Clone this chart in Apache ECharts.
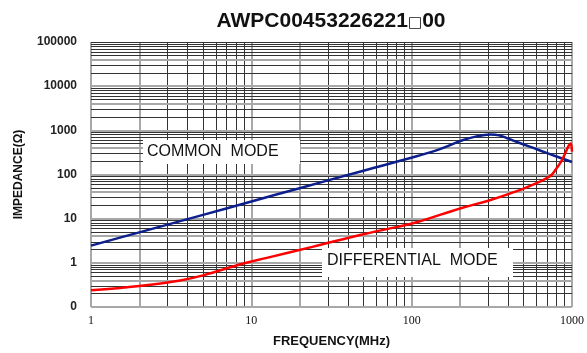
<!DOCTYPE html>
<html><head><meta charset="utf-8">
<script src="https://cdn.jsdelivr.net/npm/echarts@6/dist/echarts.min.js"></script>
<style>html,body{margin:0;padding:0;background:#fff}#c{width:587px;height:353px}</style>
</head><body><div id="c"></div>
<script>
var titlePart1 = "AWPC00453226221";
var titleBox = "\u25A1";
var titlePart2 = "00";
var xName = "FREQUENCY(MHz)";
var yName = "IMPEDANCE(\u03A9)";
var commonFreq = [1, 2, 5, 10, 20, 50, 110, 150, 205, 250, 310, 350, 400, 462, 615, 800, 1000];
var commonZ    = [2.45, 4.9, 12.2, 24.5, 49, 122, 265, 375, 590, 720, 800, 770, 650, 530, 364, 255, 192];
var diffFreq = [1, 2, 3.6, 5, 8.8, 12.3, 24, 50, 83, 110, 205, 300, 462, 615, 700, 741, 780, 859, 900, 931, 960, 982, 1000];
var diffZ    = [0.24, 0.30, 0.40, 0.52, 0.95, 1.28, 2.3, 4.45, 6.6, 8.5, 17.5, 25.5, 43, 66, 84, 96, 120, 200, 285, 374, 470, 503, 330];
var xTicks = [1, 10, 100, 1000];
var yTickLabels = ["0", "1", "10", "100", "1000", "10000", "100000"];
var commonLabel = "COMMON  MODE";
var diffLabel = "DIFFERENTIAL  MODE";

function pairs(xs, ys){ return xs.map(function(x,i){ return [x, ys[i]]; }); }

var BLACK = '#333333', GRAY = '#a8a8a8';
var gridLines = [];
[1,10,100].forEach(function(d){
  for (var m=1; m<=9; m++){
    var gray = (m===1 || m===2);
    gridLines.push({xAxis: m*d, lineStyle:{color: gray?GRAY:BLACK, width: gray?2:1, type:'solid'}});
  }
});
gridLines.push({xAxis: 1000, lineStyle:{color: GRAY, width: 2, type:'solid'}});
[0.1,1,10,100,1000,10000].forEach(function(d){
  for (var m=1; m<=9; m++){
    var gray = (m===1 || m===4);
    gridLines.push({yAxis: m*d, lineStyle:{color: gray?GRAY:BLACK, width: gray?2:1, type:'solid'}});
  }
});
gridLines.push({yAxis: 100000, lineStyle:{color: BLACK, width: 1, type:'solid'}});

var chart = echarts.init(document.getElementById('c'), null, {renderer:'canvas'});
chart.setOption({
  animation: false,
  backgroundColor: '#ffffff',
  title: {text: '{a|' + titlePart1 + '}{b|' + titleBox + '}{a|' + titlePart2 + '}', left: 326, top: 6, textAlign: 'center',
    textStyle: {rich: {
      a: {fontFamily: 'Liberation Sans, Arial', fontWeight: 'bold', fontSize: 21, color: '#111', verticalAlign: 'bottom'},
      b: {fontFamily: 'DejaVu Sans', fontWeight: 'normal', fontSize: 15, color: '#111', verticalAlign: 'bottom', padding: [0, 0, 1, 0]}
    }}},
  grid: {left: 91, right: 13, top: 42, bottom: 45},
  xAxis: {type: 'log', logBase: 10, min: 1, max: 1000,
    name: xName, nameLocation: 'middle', nameGap: 28,
    nameTextStyle: {fontFamily: 'Liberation Sans, Arial', fontWeight: 'bold', fontSize: 13, color: '#111'},
    axisLine: {show: false}, axisTick: {show: false}, splitLine: {show: false},
    axisLabel: {margin: 8, fontFamily: 'Liberation Serif, Times New Roman', fontSize: 12, color: '#111',
      formatter: function(v){ return String(xTicks[Math.round(Math.log10(v))]); }}},
  yAxis: {type: 'log', logBase: 10, min: 0.1, max: 100000, splitNumber: 6,
    name: yName, nameLocation: 'middle', nameGap: 66, nameRotate: 90,
    nameTextStyle: {fontFamily: 'Liberation Sans, Arial', fontWeight: 'bold', fontSize: 12, color: '#111'},
    axisLine: {show: false}, axisTick: {show: false}, splitLine: {show: false},
    axisLabel: {margin: 14, fontFamily: 'Liberation Sans, Arial', fontWeight: 'bold', fontSize: 12, color: '#222',
      formatter: function(v){ return yTickLabels[Math.round(Math.log10(v)) + 1]; }}},
  graphic: [
    {type: 'rect', z: 100, shape: {x: 143, y: 140, width: 157, height: 24}, style: {fill: '#fff'}},
    {type: 'text', z: 101, x: 147, y: 152, style: {text: commonLabel, fill: '#111', font: '16px "Liberation Sans", Arial', textVerticalAlign: 'middle', verticalAlign: 'middle'}},
    {type: 'rect', z: 100, shape: {x: 322, y: 248, width: 191, height: 29}, style: {fill: '#fff'}},
    {type: 'text', z: 101, x: 327, y: 261, style: {text: diffLabel, fill: '#111', font: '16px "Liberation Sans", Arial', textVerticalAlign: 'middle', verticalAlign: 'middle'}}
  ],
  series: [
    {type: 'line', data: [], z: 1, silent: true,
      markLine: {silent: true, symbol: ['none','none'], label: {show: false}, animation: false, data: gridLines}},
    {type: 'line', name: 'common', data: pairs(commonFreq, commonZ), smooth: 0.4, showSymbol: false, z: 5,
      lineStyle: {color: '#0d1f8c', width: 2.5}},
    {type: 'line', name: 'diff', data: pairs(diffFreq, diffZ), smooth: 0.4, showSymbol: false, z: 5,
      lineStyle: {color: '#ff0000', width: 2.5}}
  ]
});
</script></body></html>
